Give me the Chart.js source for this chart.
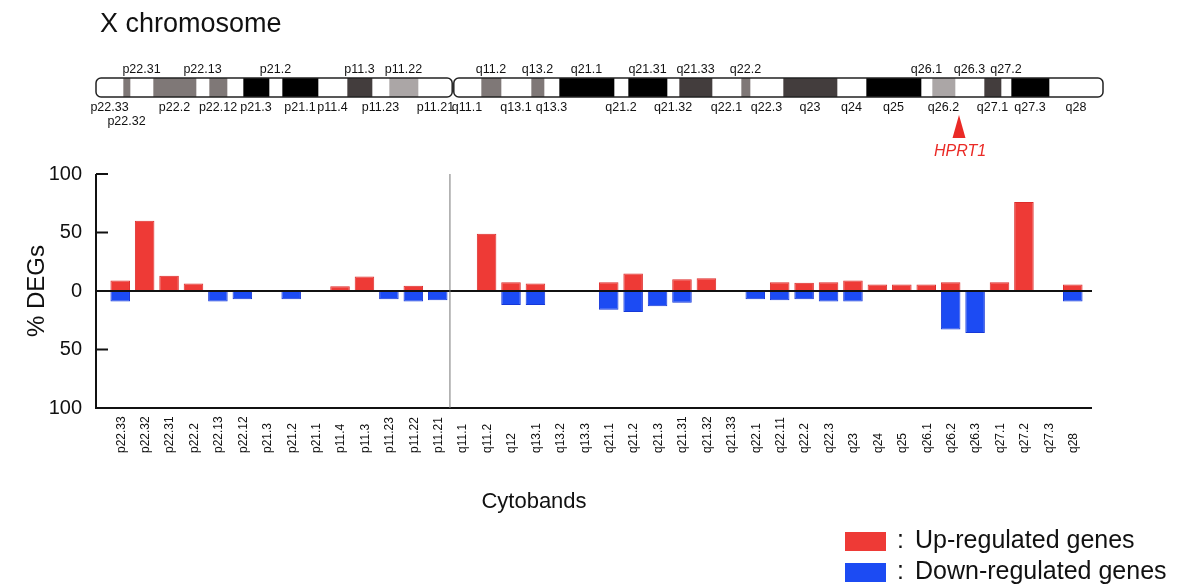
<!DOCTYPE html>
<html>
<head>
<meta charset="utf-8">
<title>X chromosome DEGs</title>
<script src="https://cdn.jsdelivr.net/npm/chart.js@4.4.1/dist/chart.umd.min.js"></script>
<style>
    body { margin: 0; background: #fff; }
    #wrap { position: relative; width: 1183px; height: 588px; }
    #wrap canvas { position: absolute; left: 0; top: 0; }
</style>
</head>
<body>
<div id="wrap">
    <canvas id="mainChart" width="1183" height="588"></canvas>
    <canvas id="ideogram" width="1183" height="160"></canvas>
</div>
<script>
// cytobands on the x axis of the bar chart
const cytobands = [
    "p22.33", "p22.32", "p22.31", "p22.2", "p22.13", "p22.12", "p21.3", "p21.2", "p21.1", "p11.4",
    "p11.3", "p11.23", "p11.22", "p11.21",
    "q11.1", "q11.2", "q12", "q13.1", "q13.2", "q13.3", "q21.1", "q21.2", "q21.3", "q21.31",
    "q21.32", "q21.33", "q22.1", "q22.11", "q22.2", "q22.3", "q23", "q24", "q25", "q26.1",
    "q26.2", "q26.3", "q27.1", "q27.2", "q27.3", "q28"
];

// % of genes in the band that are up / down regulated
const upPct = [
    9, 60, 13, 6.5, 0, 0, 0, 0, 0, 4,
    12.5, 0, 4.5, 0,
    0, 49, 7.5, 6.5, 0, 0, 7.5, 15, 0, 10,
    11, 0, 0, 7.5, 7, 7.5, 9, 5.5, 5.5, 5.5,
    7.5, 0, 7.5, 76, 0, 5.5
];
const downPct = [
    9, 0, 0, 0, 9, 7, 0, 7, 0, 0,
    0, 7, 9, 8,
    0, 0, 12, 12, 0, 0, 16, 18, 13, 10,
    0, 0, 7, 8, 7, 9, 9, 0, 0, 0,
    33, 36, 0, 0, 0, 9
];

const yTicks = [-100, -50, 0, 50, 100];
const centromereAfter = "p11.21";

// ideogram bands (positions along the chromosome drawing, arbitrary units)
const bandNames = [
    "p22.33", "p22.32", "p22.31", "p22.2", "p22.13", "p22.12", "p22.11", "p21.3", "p21.2", "p21.1",
    "p11.4", "p11.3", "p11.23", "p11.22", "p11.21",
    "q11.1", "q11.2", "q13.1", "q13.2", "q13.3", "q21.1", "q21.2", "q21.31", "q21.32", "q21.33",
    "q22.1", "q22.2", "q22.3", "q23", "q24", "q25", "q26.1", "q26.2", "q26.3", "q27.1",
    "q27.2", "q27.3", "q28"
];
const bandStart = [
    0, 27, 34, 57, 100, 113, 131, 147, 173, 186,
    222, 251, 276, 293, 322,
    357, 385, 405, 435, 448, 463, 518, 532, 571, 583,
    616, 645, 654, 687, 741, 770, 825, 836, 859, 888,
    905, 915, 953
];
const bandEnd = [
    27, 34, 57, 100, 113, 131, 147, 173, 186, 222,
    251, 276, 293, 322, 357,
    385, 405, 435, 448, 463, 518, 532, 571, 583, 616,
    645, 654, 687, 741, 770, 825, 836, 859, 888, 905,
    915, 953, 1007
];
const bandStain = [
    "neg", "pos50", "neg", "pos50", "neg", "pos50", "neg", "pos100", "neg", "pos100",
    "neg", "pos75", "neg", "pos25", "neg",
    "neg", "pos50", "neg", "pos50", "neg", "pos100", "neg", "pos100", "neg", "pos75",
    "neg", "pos50", "neg", "pos75", "neg", "pos100", "neg", "pos25", "neg", "pos75",
    "neg", "pos100", "neg"
];
// where the band name is written: a = above, b = below, c = below, second line, "" = none
const bandLabelRow = [
    "b", "c", "a", "b", "a", "b", "", "b", "a", "b",
    "b", "a", "b", "a", "b",
    "b", "a", "b", "a", "b", "a", "b", "a", "b", "a",
    "b", "a", "b", "b", "b", "b", "a", "b", "a", "b",
    "a", "b", "b"
];
const geneName = "HPRT1";
const genePos = 863;

const RED = "#ee3a36";
const BLUE = "#1c4bf3";
const stainColors = {
    neg: "#ffffff",
    pos25: "#aba6a6",
    pos50: "#7f7877",
    pos75: "#433d3d",
    pos100: "#000000"
};

const FONT = "Arial, 'Liberation Sans', Helvetica, sans-serif";

function line(ctx, x1, y1, x2, y2) {
    ctx.beginPath();
    ctx.moveTo(x1, y1);
    ctx.lineTo(x2, y2);
    ctx.stroke();
}

// axis frame, zero line and centromere divider
const framePlugin = {
    id: "frame",
    afterDatasetsDraw(chart) {
        const { ctx, chartArea: a, scales: { x, y } } = chart;
        const axisX = a.left - 12;
        const endX = a.right + 7;
        ctx.save();
        ctx.strokeStyle = "#111";
        ctx.lineWidth = 2;
        line(ctx, axisX, a.top, axisX, a.bottom + 1);
        yTicks.forEach(v => {
            line(ctx, axisX, y.getPixelForValue(v), a.left, y.getPixelForValue(v));
        });
        line(ctx, axisX, y.getPixelForValue(0), endX, y.getPixelForValue(0));
        line(ctx, axisX - 1, a.bottom, endX, a.bottom);

        const i = cytobands.indexOf(centromereAfter);
        const cx = (x.getPixelForValue(i) + x.getPixelForValue(i + 1)) / 2;
        ctx.strokeStyle = "#777";
        ctx.lineWidth = 1;
        line(ctx, cx, a.top, cx, a.bottom);
        ctx.restore();
    }
};

// rotated band names under the axis, plus axis title
const xLabelPlugin = {
    id: "xLabels",
    afterDraw(chart) {
        const { ctx, chartArea: a, scales: { x } } = chart;
        ctx.save();
        ctx.fillStyle = "#111";
        ctx.font = "12px " + FONT;
        ctx.textAlign = "left";
        ctx.textBaseline = "middle";
        cytobands.forEach((lab, i) => {
            ctx.save();
            ctx.translate(x.getPixelForValue(i) + 1, a.bottom + 45);
            ctx.rotate(-Math.PI / 2);
            ctx.fillText(lab, 0, 0);
            ctx.restore();
        });
        ctx.font = "22px " + FONT;
        ctx.textAlign = "center";
        ctx.fillText("Cytobands", 534, 502);
        ctx.restore();
    }
};

const legendPlugin = {
    id: "sideLegend",
    afterDraw(chart) {
        const { ctx } = chart;
        ctx.save();
        ctx.font = "25px " + FONT;
        ctx.textBaseline = "middle";
        chart.data.datasets.forEach((ds, i) => {
            const top = 532 + i * 31;
            ctx.fillStyle = ds.backgroundColor;
            ctx.fillRect(845, top, 41, 19);
            ctx.fillStyle = "#111";
            ctx.fillText(":", 897, top + 9);
            ctx.fillText(ds.label, 915, top + 9);
        });
        ctx.restore();
    }
};

new Chart(document.getElementById("mainChart"), {
    type: "bar",
    data: {
        labels: cytobands,
        datasets: [
            {
                label: "Up-regulated genes",
                data: upPct,
                backgroundColor: RED,
                borderColor: "#dd2c2a",
                borderWidth: 1
            },
            {
                label: "Down-regulated genes",
                data: downPct.map(v => -v),
                backgroundColor: BLUE,
                borderColor: "#1638d8",
                borderWidth: 1
            }
        ]
    },
    options: {
        responsive: false,
        animation: false,
        devicePixelRatio: 1,
        layout: { padding: { left: 0, top: 174, right: 98, bottom: 70 } },
        datasets: { bar: { categoryPercentage: 0.8, barPercentage: 1 } },
        plugins: {
            legend: { display: false },
            tooltip: { enabled: false }
        },
        scales: {
            x: {
                stacked: true,
                grid: { display: false },
                border: { display: false },
                ticks: { display: false },
                afterFit(s) { s.height = 110; }
            },
            y: {
                stacked: true,
                min: -100,
                max: 100,
                afterBuildTicks(s) { s.ticks = yTicks.map(v => ({ value: v })); },
                ticks: {
                    callback: v => Math.abs(v),
                    color: "#111",
                    font: { size: 20, family: FONT },
                    padding: 26
                },
                grid: { display: false, drawTicks: false },
                border: { display: false },
                title: {
                    display: true,
                    text: "% DEGs",
                    color: "#111",
                    font: { size: 24, family: FONT },
                    padding: { top: 23, bottom: 0 }
                },
                afterFit(s) { s.width = 108; }
            }
        }
    },
    plugins: [framePlugin, xLabelPlugin, legendPlugin]
});

// chromosome outline, band names, gene marker and title
const ideogramPlugin = {
    id: "ideogramDecor",
    afterDatasetsDraw(chart) {
        const { ctx, chartArea: a, scales: { x } } = chart;
        const cen = bandStart[bandNames.indexOf("q11.1")];
        const arms = [[bandStart[0], cen], [cen, bandEnd[bandEnd.length - 1]]];
        ctx.save();
        ctx.strokeStyle = "#222";
        ctx.lineWidth = 1.5;
        arms.forEach(([s, e], k) => {
            const x1 = x.getPixelForValue(s) + (k === 1 ? 0.8 : 0);
            const x2 = x.getPixelForValue(e) - (k === 0 ? 0.8 : 0);
            ctx.beginPath();
            ctx.roundRect(x1, a.top, x2 - x1, a.bottom - a.top, 5);
            ctx.stroke();
        });

        ctx.fillStyle = "#111";
        ctx.font = "12.5px " + FONT;
        ctx.textAlign = "center";
        ctx.textBaseline = "alphabetic";
        const rowY = { a: a.top - 5, b: a.bottom + 14, c: a.bottom + 28 };
        bandNames.forEach((n, i) => {
            const row = bandLabelRow[i];
            if (!row) return;
            const cx = x.getPixelForValue((bandStart[i] + bandEnd[i]) / 2);
            ctx.fillText(n, cx, rowY[row]);
        });

        const gx = x.getPixelForValue(genePos);
        ctx.fillStyle = "#ea2a26";
        ctx.beginPath();
        ctx.moveTo(gx, a.bottom + 18);
        ctx.lineTo(gx + 6.5, a.bottom + 41);
        ctx.lineTo(gx - 6.5, a.bottom + 41);
        ctx.closePath();
        ctx.fill();
        ctx.font = "italic 16px " + FONT;
        ctx.textBaseline = "middle";
        ctx.fillText(geneName, gx + 1, a.bottom + 55);

        ctx.fillStyle = "#111";
        ctx.font = "27px " + FONT;
        ctx.textAlign = "left";
        ctx.textBaseline = "alphabetic";
        ctx.fillText("X chromosome", 100, 32);
        ctx.restore();
    }
};

new Chart(document.getElementById("ideogram"), {
    type: "bar",
    data: {
        labels: ["X"],
        datasets: bandNames.map((n, i) => ({
            label: n,
            data: [[bandStart[i], bandEnd[i]]],
            backgroundColor: stainColors[bandStain[i]],
            borderWidth: 0,
            grouped: false,
            barPercentage: 1,
            categoryPercentage: 1
        }))
    },
    options: {
        indexAxis: "y",
        responsive: false,
        animation: false,
        devicePixelRatio: 1,
        layout: { padding: { left: 96, right: 80, top: 78, bottom: 63 } },
        plugins: {
            legend: { display: false },
            tooltip: { enabled: false }
        },
        scales: {
            x: { type: "linear", min: 0, max: 1007, display: false },
            y: { display: false }
        }
    },
    plugins: [ideogramPlugin]
});
</script>
</body>
</html>
